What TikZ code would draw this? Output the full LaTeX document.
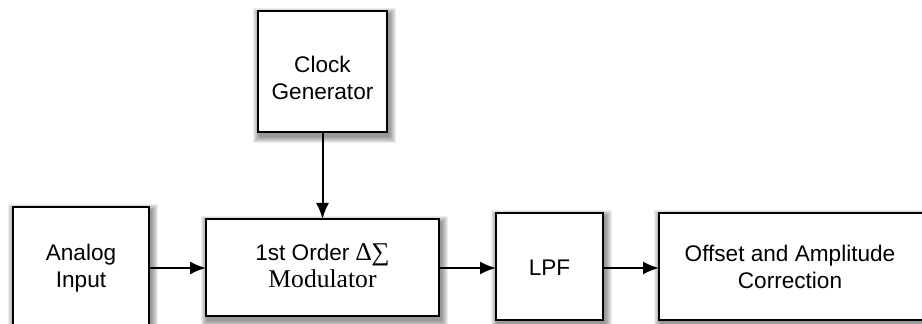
\documentclass[tikz,border=0pt]{standalone}
\usepackage{fontspec}
\setmainfont{Liberation Sans}
\newfontfamily\serifx{Liberation Serif}
\usetikzlibrary{arrows.meta}
\newcommand{\shadowbox}[4]{%
  \foreach \r in {1,...,7}{%
    \fill[black,opacity=0.07] (#1+2-\r,#2+4-\r) rectangle (#3+2+\r,#4+4+\r);
  }%
  \draw[blk] (#1,#2) rectangle (#3,#4);%
}
\begin{document}
\begin{tikzpicture}[x=0.5pt,y=-0.5pt,
  blk/.style={draw=black,line width=1pt,fill=white},
  lbl/.style={font=\fontsize{11.3}{13.5}\selectfont,align=center,inner sep=0pt},
  arr/.style={-{Latex[length=8pt,width=6.5pt]},line width=1pt}]
\useasboundingbox (0,0) rectangle (922,324);
\begin{scope}
\clip (0,0) rectangle (922,324);
\shadowbox{258}{11}{387}{132}
\shadowbox{13}{207}{149}{340}
\shadowbox{206}{219}{439}{316}
\shadowbox{496}{213}{603}{320}
\shadowbox{659}{213}{940}{320}
\end{scope}
\node[lbl] (clk) at (322.5,78) {Clock\\Generator};
\node[lbl] (ain) at (81,268) {Analog\\Input};
\node[lbl] (mod) at (322.5,266) {1st Order {\serifx\fontsize{12.8}{13.5}\selectfont ∆∑}\\{\serifx\fontsize{12.8}{13.5}\selectfont Modulator}};
\node[lbl] (lpf) at (549.5,268) {LPF};
\node[lbl] (oac) at (790,267) {Offset and Amplitude\\Correction};
\coordinate (clkb) at (322.5,132);
\coordinate (modt) at (322.5,219);
\coordinate (ainr) at (149,268);
\coordinate (modl) at (206,268);
\coordinate (modr) at (439,268);
\coordinate (lpfl) at (496,268);
\coordinate (lpfr) at (603,268);
\coordinate (oacl) at (659,268);
\draw[arr] (clkb) -- (modt);
\draw[arr] (ainr) -- (modl);
\draw[arr] (modr) -- (lpfl);
\draw[arr] (lpfr) -- (oacl);
\end{tikzpicture}
\end{document}
